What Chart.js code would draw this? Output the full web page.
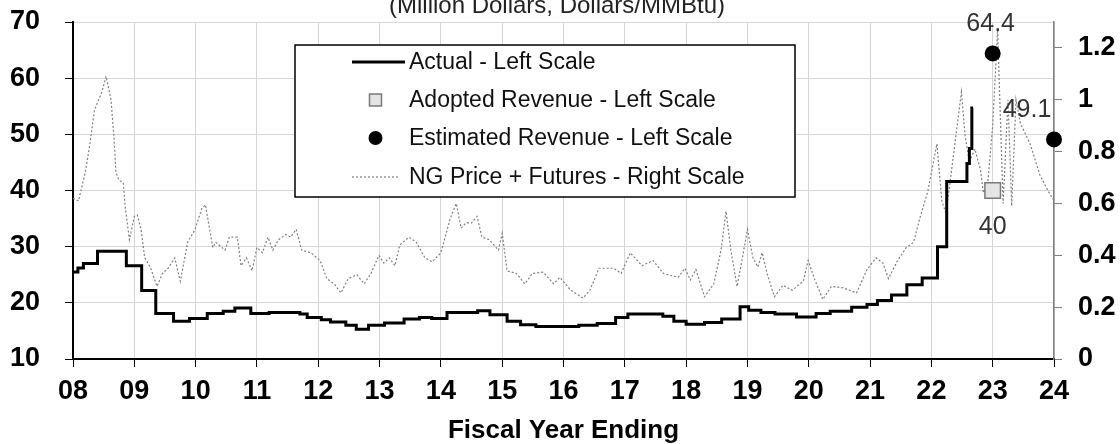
<!DOCTYPE html>
<html>
<head>
<meta charset="utf-8">
<script src="https://cdn.jsdelivr.net/npm/chart.js@4.4.1/dist/chart.umd.min.js"></script>
<style>
    html, body { margin: 0; padding: 0; background: #fff; }
    #wrap { width: 1120px; height: 444px; }
</style>
</head>
<body>
<div id="wrap"><canvas id="revenueChart" width="1120" height="444"></canvas></div>
<script>
// Axis ticks (x is fiscal year, 8 = FY08)
var yearTicks = [8, 9, 10, 11, 12, 13, 14, 15, 16, 17, 18, 19, 20, 21, 22, 23, 24];
var yearLabels = ['08', '09', '10', '11', '12', '13', '14', '15', '16', '17', '18', '19', '20', '21', '22', '23', '24'];
var leftTicks = [10, 20, 30, 40, 50, 60, 70];
var rightTicks = [0, 0.2, 0.4, 0.6, 0.8, 1, 1.2];

// Actual revenue, million dollars (value holds until next point)
var actual = [
    [8.00, 25.5], [8.08, 26.2], [8.17, 27.0], [8.40, 29.2], [8.87, 26.6], [9.12, 22.2],
    [9.35, 18.1], [9.64, 16.7], [9.90, 17.2], [10.19, 18.1], [10.45, 18.5], [10.64, 19.1],
    [10.90, 18.1], [11.20, 18.3], [11.70, 18.0], [11.82, 17.4], [12.05, 17.0], [12.20, 16.6],
    [12.45, 16.0], [12.62, 15.3], [12.82, 16.0], [13.08, 16.4], [13.40, 17.1], [13.65, 17.4],
    [13.85, 17.2], [14.10, 18.3], [14.60, 18.6], [14.80, 17.9], [15.08, 16.7], [15.30, 16.1],
    [15.55, 15.8], [16.25, 16.0], [16.55, 16.3], [16.85, 17.4], [17.05, 18.0], [17.62, 17.6],
    [17.80, 16.7], [18.00, 16.2], [18.30, 16.5], [18.58, 17.1], [18.88, 19.3], [19.02, 18.7],
    [19.22, 18.3], [19.45, 18.0], [19.80, 17.5], [20.12, 18.1], [20.35, 18.5], [20.70, 19.2],
    [20.95, 19.7], [21.12, 20.4], [21.35, 21.4], [21.60, 23.2], [21.85, 24.4], [22.10, 30.0],
    [22.25, 41.6], [22.58, 44.8], [22.62, 47.5], [22.66, 54.7], [22.68, 54.7]
];

// NG price + futures, $/MMBtu (right scale)
var ngPrice = [
    [8.00, 0.62], [8.09, 0.61], [8.20, 0.72], [8.27, 0.82], [8.35, 0.96], [8.47, 1.03], [8.54, 1.09],
    [8.62, 1.00], [8.67, 0.85], [8.70, 0.72], [8.75, 0.69], [8.82, 0.68], [8.85, 0.59], [8.92, 0.46],
    [9.00, 0.55], [9.05, 0.555], [9.11, 0.50], [9.17, 0.39], [9.26, 0.355], [9.37, 0.28], [9.46, 0.33],
    [9.55, 0.35], [9.66, 0.39], [9.75, 0.30], [9.87, 0.45], [9.99, 0.50], [10.10, 0.58], [10.16, 0.595],
    [10.28, 0.43], [10.33, 0.45], [10.48, 0.42], [10.55, 0.47], [10.68, 0.47], [10.74, 0.36], [10.83, 0.39],
    [10.92, 0.34], [11.00, 0.43], [11.09, 0.41], [11.18, 0.47], [11.26, 0.42], [11.35, 0.46], [11.47, 0.48],
    [11.55, 0.47], [11.64, 0.50], [11.73, 0.42], [11.88, 0.41], [12.03, 0.38], [12.14, 0.31], [12.26, 0.29],
    [12.37, 0.255], [12.49, 0.31], [12.63, 0.325], [12.75, 0.29], [12.86, 0.33], [12.99, 0.40], [13.07, 0.37],
    [13.16, 0.39], [13.25, 0.36], [13.33, 0.44], [13.48, 0.47], [13.60, 0.45], [13.74, 0.39], [13.86, 0.375],
    [14.00, 0.41], [14.15, 0.54], [14.25, 0.60], [14.33, 0.505], [14.41, 0.525], [14.50, 0.525], [14.59, 0.55],
    [14.67, 0.47], [14.79, 0.46], [14.94, 0.42], [15.00, 0.485], [15.08, 0.34], [15.23, 0.33], [15.37, 0.29],
    [15.49, 0.33], [15.67, 0.335], [15.84, 0.29], [15.94, 0.315], [16.12, 0.265], [16.32, 0.235], [16.43, 0.265],
    [16.58, 0.35], [16.82, 0.35], [16.94, 0.33], [17.09, 0.41], [17.28, 0.36], [17.46, 0.38], [17.63, 0.33],
    [17.87, 0.315], [17.98, 0.35], [18.07, 0.305], [18.16, 0.345], [18.30, 0.24], [18.45, 0.29], [18.57, 0.42],
    [18.65, 0.57], [18.73, 0.42], [18.83, 0.28], [18.91, 0.38], [19.00, 0.50], [19.09, 0.39], [19.17, 0.355],
    [19.24, 0.41], [19.32, 0.33], [19.44, 0.24], [19.58, 0.285], [19.73, 0.265], [19.91, 0.30], [19.99, 0.38],
    [20.10, 0.305], [20.23, 0.23], [20.37, 0.28], [20.55, 0.275], [20.78, 0.255], [20.95, 0.345], [21.10, 0.39],
    [21.21, 0.37], [21.30, 0.31], [21.45, 0.38], [21.59, 0.43], [21.71, 0.45], [21.82, 0.55], [21.94, 0.645],
    [22.09, 0.83], [22.17, 0.61], [22.24, 0.56], [22.33, 0.73], [22.42, 0.90], [22.49, 1.03], [22.55, 0.86],
    [22.62, 0.76], [22.71, 0.81], [22.80, 0.73], [22.85, 0.64], [22.92, 0.68], [23.00, 0.90], [23.08, 1.27],
    [23.17, 0.60], [23.25, 1.00], [23.31, 0.59], [23.38, 1.00], [23.45, 0.91], [23.61, 0.83], [23.77, 0.71],
    [23.90, 0.65], [24.00, 0.61]
];

var adopted = [[23, 40]];
var estimated = [[23, 64.4], [24, 49.1]];

var FONT = 'Liberation Sans, Arial, sans-serif';

function toXY(list) {
    return list.map(function (p) { return { x: p[0], y: p[1] }; });
}

// Title line (top half is cut off in the source), legend box and value labels
var decorPlugin = {
    id: 'decor',
    afterDraw: function (chart) {
        var ctx = chart.ctx;
        var ca = chart.chartArea;
        ctx.save();

        // title
        ctx.font = '24px ' + FONT;
        ctx.fillStyle = '#222';
        ctx.textAlign = 'center';
        ctx.textBaseline = 'alphabetic';
        ctx.fillText('(Million Dollars, Dollars/MMBtu)', 557, ca.top - 9.5);

        // value labels on the revenue points
        ctx.font = '25px ' + FONT;
        ctx.fillStyle = '#333';
        ctx.textBaseline = 'middle';
        var est = chart.getDatasetMeta(0).data;
        ctx.fillText(String(estimated[0][1]), est[0].x - 2, est[0].y - 29);
        ctx.fillText(String(estimated[1][1]), est[1].x - 27, est[1].y - 29);
        var adp = chart.getDatasetMeta(1).data;
        ctx.fillText(String(adopted[0][1]), adp[0].x, adp[0].y + 37);

        // legend
        var bx = ca.left + 222, by = ca.top + 23, bw = 500, bh = 152;
        ctx.fillStyle = '#fff';
        ctx.fillRect(bx, by, bw, bh);
        ctx.strokeStyle = '#000';
        ctx.lineWidth = 1.5;
        ctx.strokeRect(bx, by, bw, bh);

        var order = [2, 1, 0, 3];
        var rows = [17, 55, 93, 132];
        var sx = bx + 57, ex = bx + 110, tx = bx + 114;
        ctx.font = '23px ' + FONT;
        ctx.textAlign = 'left';
        order.forEach(function (di, r) {
            var ds = chart.data.datasets[di];
            var y = by + rows[r];
            var cx = (sx + ex) / 2 - 3;
            ctx.save();
            if (di === 2) {
                ctx.strokeStyle = ds.borderColor;
                ctx.lineWidth = ds.borderWidth;
                ctx.beginPath(); ctx.moveTo(sx, y); ctx.lineTo(ex, y); ctx.stroke();
            } else if (di === 3) {
                ctx.strokeStyle = ds.borderColor;
                ctx.lineWidth = ds.borderWidth;
                ctx.setLineDash(ds.borderDash);
                ctx.beginPath(); ctx.moveTo(sx, y); ctx.lineTo(ex - 5, y); ctx.stroke();
            } else if (di === 1) {
                ctx.fillStyle = ds.backgroundColor;
                ctx.strokeStyle = ds.borderColor;
                ctx.lineWidth = 1.5;
                ctx.fillRect(cx - 6, y - 6, 12, 12);
                ctx.strokeRect(cx - 6, y - 6, 12, 12);
            } else {
                ctx.fillStyle = ds.backgroundColor;
                ctx.beginPath(); ctx.arc(cx, y, 7, 0, Math.PI * 2); ctx.fill();
            }
            ctx.restore();
            ctx.fillStyle = '#111';
            ctx.textBaseline = 'middle';
            ctx.fillText(ds.label, tx, y + 1);
        });
        ctx.restore();
    }
};

// vertical axes: fixed width, no extra label overhang padding
function fixVertical(width) {
    return function (s) {
        s.width = width;
        s.paddingTop = 0;
        s.paddingBottom = 0;
    };
}

var ctx = document.getElementById('revenueChart').getContext('2d');
var revenueChart = new Chart(ctx, {
    type: 'line',
    data: {
        datasets: [{
            label: 'Estimated Revenue - Left Scale',
            data: toXY(estimated),
            yAxisID: 'y',
            showLine: false,
            pointStyle: 'circle',
            pointRadius: 8,
            backgroundColor: '#000',
            borderColor: '#000',
            borderWidth: 0,
            clip: false
        }, {
            label: 'Adopted Revenue - Left Scale',
            data: toXY(adopted),
            yAxisID: 'y',
            showLine: false,
            pointStyle: 'rect',
            pointRadius: 11,
            backgroundColor: '#e4e4e4',
            borderColor: '#7a7a7a',
            pointBorderWidth: 1.5,
            clip: false
        }, {
            label: 'Actual - Left Scale',
            data: toXY(actual),
            yAxisID: 'y',
            stepped: 'before',
            borderColor: '#000',
            borderWidth: 3,
            pointRadius: 0,
            fill: false
        }, {
            label: 'NG Price + Futures - Right Scale',
            data: toXY(ngPrice),
            yAxisID: 'y2',
            borderColor: '#7f7f7f',
            borderWidth: 1.2,
            borderDash: [2, 2],
            pointRadius: 0,
            tension: 0,
            fill: false
        }]
    },
    options: {
        responsive: false,
        animation: false,
        devicePixelRatio: 1,
        layout: { padding: { top: 22, left: 0, right: 0, bottom: 0 } },
        plugins: {
            legend: { display: false },
            tooltip: { enabled: false },
            title: { display: false }
        },
        scales: {
            x: {
                type: 'linear',
                position: 'bottom',
                min: 8,
                max: 24,
                afterBuildTicks: function (s) { s.ticks = yearTicks.map(function (v) { return { value: v }; }); },
                afterFit: function (s) { s.height = 85; },
                ticks: {
                    autoSkip: false,
                    maxRotation: 0,
                    padding: 8,
                    color: '#000',
                    font: { family: FONT, size: 27, weight: 'bold' },
                    callback: function (v, i) { return yearLabels[i]; }
                },
                grid: { color: '#d6d6d6', lineWidth: 1, tickColor: '#000', tickLength: 8 },
                border: { color: '#000', width: 2 },
                title: {
                    display: true,
                    text: 'Fiscal Year Ending',
                    color: '#000',
                    padding: 0,
                    font: { family: FONT, size: 26, weight: 'bold', lineHeight: 1 }
                }
            },
            y: {
                position: 'left',
                min: 10,
                max: 70,
                afterBuildTicks: function (s) { s.ticks = leftTicks.map(function (v) { return { value: v }; }); },
                afterFit: fixVertical(73),
                ticks: {
                    padding: 25,
                    color: '#000',
                    font: { family: FONT, size: 27, weight: 'bold' }
                },
                grid: { color: '#d6d6d6', lineWidth: 1, tickColor: '#000', tickLength: 8 },
                border: { color: '#000', width: 2 }
            },
            y2: {
                position: 'right',
                min: 0,
                max: 1.3,
                afterBuildTicks: function (s) { s.ticks = rightTicks.map(function (v) { return { value: v }; }); },
                afterFit: fixVertical(66),
                ticks: {
                    padding: 16,
                    color: '#000',
                    font: { family: FONT, size: 27, weight: 'bold' },
                    callback: function (v, i) { return String(rightTicks[i]); }
                },
                grid: { drawOnChartArea: false, tickColor: '#808080', tickLength: 8 },
                border: { color: '#808080', width: 1.5 }
            }
        }
    },
    plugins: [decorPlugin]
});
</script>
</body>
</html>
